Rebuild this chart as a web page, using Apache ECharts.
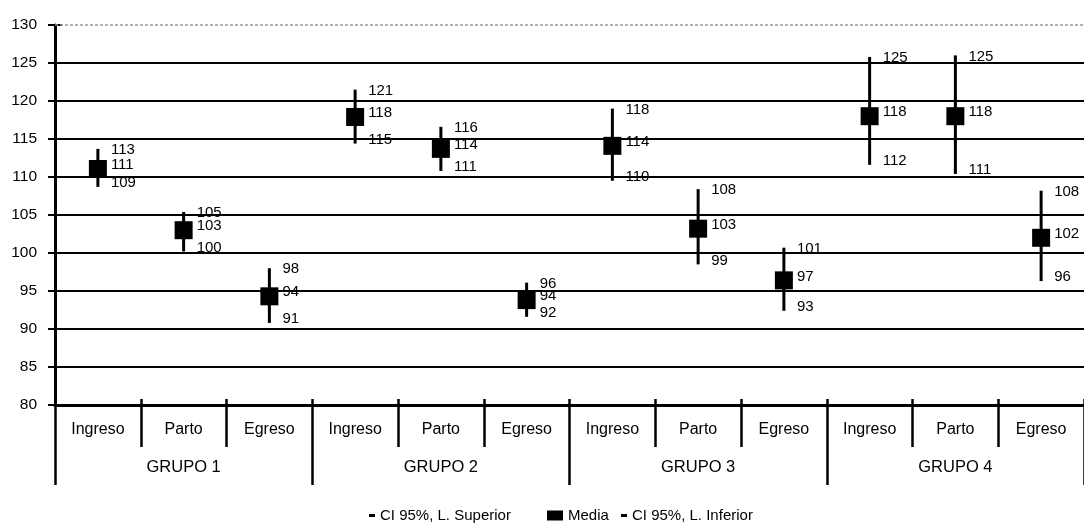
<!DOCTYPE html>
<html>
<head>
<meta charset="utf-8">
<script src="https://cdn.jsdelivr.net/npm/echarts@6/dist/echarts.min.js"></script>
<style>html,body{margin:0;padding:0;background:#fff}#c{width:1084px;height:524px}</style>
</head>
<body>
<div id="c"></div>
<script>
const categories = ['Ingreso','Parto','Egreso','Ingreso','Parto','Egreso','Ingreso','Parto','Egreso','Ingreso','Parto','Egreso'];
const groups = ['GRUPO 1','GRUPO 2','GRUPO 3','GRUPO 4'];
const yTicks = [80, 130, 5];
const meanValues  = [111.05, 103.0, 94.3, 117.9, 113.7, 93.8, 114.1, 103.2, 96.4, 118.0, 118.0, 102.0];
const upperValues = [113.7, 105.4, 98.0, 121.5, 116.6, 96.1, 119.0, 108.4, 100.7, 125.8, 126.0, 108.2];
const lowerValues = [108.7, 100.2, 90.8, 114.4, 110.8, 91.6, 109.5, 98.5, 92.4, 111.6, 110.4, 96.3];
const meanLabels  = [111, 103, 94, 118, 114, 94, 114, 103, 97, 118, 118, 102];
const upperLabels = [113, 105, 98, 121, 116, 96, 118, 108, 101, 125, 125, 108];
const lowerLabels = [109, 100, 91, 115, 111, 92, 110, 99, 93, 112, 111, 96];
const seriesNames = ['CI 95%, L. Superior', 'Media', 'CI 95%, L. Inferior'];

const FONT = "'Liberation Sans', Arial, sans-serif";
const dashIcon = 'path://M0,0M16,10M10,3.5h6v3h-6z';

const chart = echarts.init(document.getElementById('c'), null, {renderer: 'canvas'});
const lblStyle = {color: '#000', fontSize: 15, fontFamily: FONT};
const catStyle = {color: '#000', fontSize: 16, fontFamily: FONT};

function legendFor(idx, left, icon, fontSize) {
  return {
    selectedMode: false,
    left: left, top: 503,
    itemWidth: 16, itemHeight: 10, itemGap: 0,
    textStyle: {fontSize: fontSize, color: '#000', fontFamily: FONT},
    data: [{name: seriesNames[idx], icon: icon, itemStyle: {color: '#000', opacity: 1}}]
  };
}

chart.setOption({
  animation: false,
  backgroundColor: '#fff',
  textStyle: {fontFamily: FONT, color: '#000'},
  grid: {left: 55, top: 25, width: 1031, height: 380},
  legend: [
    legendFor(0, 354, dashIcon, 15),
    legendFor(1, 542, 'rect', 15),
    legendFor(2, 606, dashIcon, 15)
  ],
  xAxis: [
    {
      type: 'category', data: categories, boundaryGap: true, position: 'bottom',
      axisLine: {show: true, lineStyle: {color: '#000', width: 3}},
      axisTick: {show: true, inside: false, length: 42, lineStyle: {color: '#000', width: 2.5}},
      axisLabel: Object.assign({interval: 0, margin: 17}, catStyle),
      splitLine: {show: false}
    },
    {
      type: 'category', data: groups, boundaryGap: true, position: 'bottom', offset: 0,
      axisLine: {show: false},
      axisTick: {show: true, inside: false, length: 80, lineStyle: {color: '#000', width: 2.5}},
      axisLabel: Object.assign({interval: 0, margin: 54}, catStyle, {fontSize: 16.5}),
      splitLine: {show: false}
    },
    {
      type: 'category', data: categories, boundaryGap: true, position: 'bottom', offset: 0,
      axisLine: {show: false},
      axisTick: {show: true, inside: true, length: 6, lineStyle: {color: '#000', width: 2.5}},
      axisLabel: {show: false},
      splitLine: {show: false}
    }
  ],
  yAxis: [
    {
      type: 'value', min: yTicks[0], max: yTicks[1], interval: yTicks[2],
      axisLine: {show: true, lineStyle: {color: '#000', width: 3}},
      axisTick: {show: true, inside: false, length: 7, lineStyle: {color: '#000', width: 2}},
      axisLabel: Object.assign({margin: 18}, lblStyle, {fontSize: 15.5}),
      splitLine: {show: true, showMaxLine: false, lineStyle: {color: '#000', width: 2}}
    },
    {
      type: 'value', min: yTicks[0], max: yTicks[1], interval: yTicks[2], position: 'left',
      axisLine: {show: false},
      axisTick: {show: true, inside: true, length: 7, lineStyle: {color: '#000', width: 2}},
      axisLabel: {show: false},
      splitLine: {show: false}
    }
  ],
  series: [
    {
      type: 'custom', name: 'bars', z: 2,
      xAxisIndex: 0, yAxisIndex: 0,
      data: categories.map((c, i) => [i, lowerValues[i], upperValues[i]]),
      encode: {x: 0, y: [1, 2]},
      renderItem: function (params, api) {
        const lo = api.coord([api.value(0), api.value(1)]);
        const hi = api.coord([api.value(0), api.value(2)]);
        return {
          type: 'line',
          shape: {x1: lo[0], y1: lo[1], x2: hi[0], y2: hi[1]},
          style: {stroke: '#000', lineWidth: 3}
        };
      }
    },
    {
      type: 'scatter', name: seriesNames[0], z: 4,
      xAxisIndex: 0, yAxisIndex: 0,
      data: categories.map((c, i) => [i, upperValues[i]]),
      symbol: 'circle', symbolSize: 0.1,
      itemStyle: {color: 'rgba(0,0,0,0)', opacity: 1},
      label: Object.assign({show: true, position: 'right', distance: 13, offset: [0, 1],
        formatter: p => String(upperLabels[p.dataIndex])}, lblStyle)
    },
    {
      type: 'scatter', name: seriesNames[1], z: 5,
      xAxisIndex: 0, yAxisIndex: 0,
      data: categories.map((c, i) => [i, meanValues[i]]),
      symbol: 'rect', symbolSize: 18,
      itemStyle: {color: '#000', opacity: 1},
      label: Object.assign({show: true, position: 'right', distance: 4, offset: [0, -4],
        formatter: p => String(meanLabels[p.dataIndex])}, lblStyle),
      markLine: {
        silent: true, symbol: 'none', label: {show: false},
        lineStyle: {color: '#999', type: [3, 2], width: 1.5},
        data: [{yAxis: yTicks[1]}]
      }
    },
    {
      type: 'scatter', name: seriesNames[2], z: 4,
      xAxisIndex: 0, yAxisIndex: 0,
      data: categories.map((c, i) => [i, lowerValues[i]]),
      symbol: 'circle', symbolSize: 0.1,
      itemStyle: {color: 'rgba(0,0,0,0)', opacity: 1},
      label: Object.assign({show: true, position: 'right', distance: 13, offset: [0, -4],
        formatter: p => String(lowerLabels[p.dataIndex])}, lblStyle)
    }
  ]
});
</script>
</body>
</html>
